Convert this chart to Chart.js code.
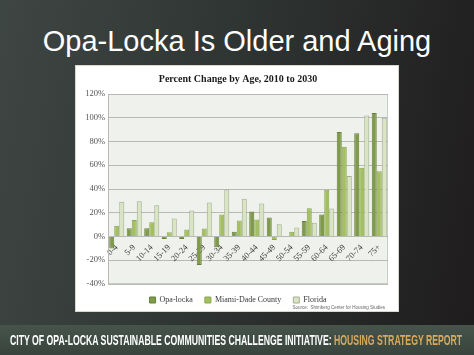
<!DOCTYPE html>
<html>
<head>
<meta charset="utf-8">
<script src="https://cdn.jsdelivr.net/npm/chart.js@4"></script>
<style>
  html, body { margin:0; padding:0; }
  body {
    width:474px; height:355px; overflow:hidden; position:relative;
    background: linear-gradient(100deg, #3e4643 0%, #2f3533 45%, #1f1c1d 100%);
    font-family: "Liberation Sans", Arial, sans-serif;
  }
  #title {
    position:absolute; left:0; width:474px; top:21px; text-align:center;
    color:#fff; font-size:29px; line-height:40px; white-space:nowrap;
  }
  #box {
    position:absolute; left:76px; top:66px; width:322px; height:245px;
    background:#fff; box-shadow: 0 0 0 1px #d8d8cf;
  }
  #c { position:absolute; left:0; top:0; }
  #source {
    position:absolute; right:13px; bottom:1px; font-size:4.5px; color:#666;
    font-family:"Liberation Sans", Arial, sans-serif;
  }
  #banner {
    position:absolute; left:0; top:325px; width:474px; height:30px;
    background: linear-gradient(180deg, #46544c 0%, #38443d 100%);
  }
  #bannerText {
    position:absolute; left:10px; top:6px; white-space:nowrap; transform-origin:0 0;
    font-family:"Liberation Sans Narrow", "Liberation Sans", Arial, sans-serif;
    font-weight:bold; font-size:15px; line-height:18px; color:#fff;
  }
  #bannerText span { color:#d8a95b; }
</style>
</head>
<body>
<div id="title">Opa-Locka Is Older and Aging</div>
<div id="box">
  <canvas id="c" width="326" height="249"></canvas>
  <div id="source">Source:&nbsp; Shimberg Center for Housing Studies</div>
</div>
<div id="banner"><div id="bannerText">CITY OF OPA-LOCKA SUSTAINABLE COMMUNITIES CHALLENGE INITIATIVE: <span>HOUSING STRATEGY REPORT</span></div></div>
<script>
const categories = ["0-4","5-9","10-14","15-19","20-24","25-29","30-34","35-39","40-44","45-49","50-54","55-59","60-64","65-69","70-74","75+"];
const opaLocka   = [-10, 7, 7, -2, -2, -24, -9, 4, 21, 16, 0.5, 13, 18.5, 88, 87, 104];
const miamiDade  = [9, 14, 12, 3.6, 6, 6.7, 18.5, 13.5, 14.3, -3, 3.9, 23.8, 39.3, 75.5, 58, 55];
const florida    = [29.2, 29.7, 26.4, 15.1, 21.9, 28.6, 39.6, 31.7, 27.8, 10.4, 7.6, 11.5, 23.6, 51, 101.8, 100];
const yTicks = { min: -40, max: 120, step: 20 };

// fit banner text width
(function(){
  const t = document.getElementById('bannerText');
  const w = t.scrollWidth;
  t.style.transform = 'scaleX(' + (452 / w) + ')';
})();

const plotBg = {
  id: 'plotBg',
  beforeDraw(chart) {
    const {ctx, chartArea:a} = chart;
    ctx.save();
    ctx.fillStyle = '#eff1ec';
    ctx.fillRect(a.left, a.top, a.right - a.left, a.bottom - a.top);
    ctx.strokeStyle = '#c9cbc5';
    ctx.lineWidth = 1;
    ctx.strokeRect(a.left + 0.5, a.top + 0.5, a.right - a.left - 1, a.bottom - a.top - 1);
    ctx.restore();
  }
};

new Chart(document.getElementById('c'), {
  type: 'bar',
  data: {
    labels: categories,
    datasets: [
      { label: 'Opa-locka', data: opaLocka, backgroundColor: '#7f9a48', borderColor: '#67803a', borderWidth: 1 },
      { label: 'Miami-Dade County', data: miamiDade, backgroundColor: '#a3bf60', borderColor: '#8aa64c', borderWidth: 1 },
      { label: 'Florida', data: florida, backgroundColor: '#d9e5c1', borderColor: '#a2ad92', borderWidth: 1 }
    ]
  },
  options: {
    responsive: false,
    animation: false,
    devicePixelRatio: 1,
    layout: { padding: { left: 0, right: 2, top: 0, bottom: 1 } },
    datasets: { bar: { categoryPercentage: 0.86, barPercentage: 1.0 } },
    plugins: {
      title: {
        display: true,
        text: 'Percent Change by Age, 2010 to 2030',
        color: '#1a1a1a',
        font: { family: '"Liberation Serif", serif', size: 10, weight: 'bold' },
        padding: { top: 7.5, bottom: 8.5 }
      },
      legend: {
        position: 'bottom',
        labels: {
          boxWidth: 6, boxHeight: 6, padding: 12,
          color: '#3a3a3a',
          font: { family: '"Liberation Serif", serif', size: 8 }
        }
      },
      tooltip: { enabled: false }
    },
    scales: {
      x: {
        position: { y: 0 },
        grid: { display: false, drawTicks: false },
        border: { display: false },
        ticks: {
          autoSkip: false, maxRotation: 45, minRotation: 45, padding: 6,
          color: '#404040',
          font: { family: '"Liberation Serif", serif', size: 8.5 }
        }
      },
      y: {
        min: yTicks.min, max: yTicks.max,
        afterFit(scale) { scale.width = 32; },
        grid: { color: '#b9bab5', drawTicks: false },
        border: { display: true, color: '#b9bab5' },
        ticks: {
          stepSize: yTicks.step, padding: 3,
          color: '#555',
          font: { family: '"Liberation Serif", serif', size: 8.5 },
          callback: v => v + '%'
        }
      },
      spacer: {
        type: 'linear', position: 'right', display: true,
        min: yTicks.min, max: yTicks.max,
        afterFit(scale) { scale.width = 12; },
        grid: { display: false, drawTicks: false },
        border: { display: false },
        ticks: { display: false }
      }
    }
  },
  plugins: [plotBg]
});
</script>
</body>
</html>
